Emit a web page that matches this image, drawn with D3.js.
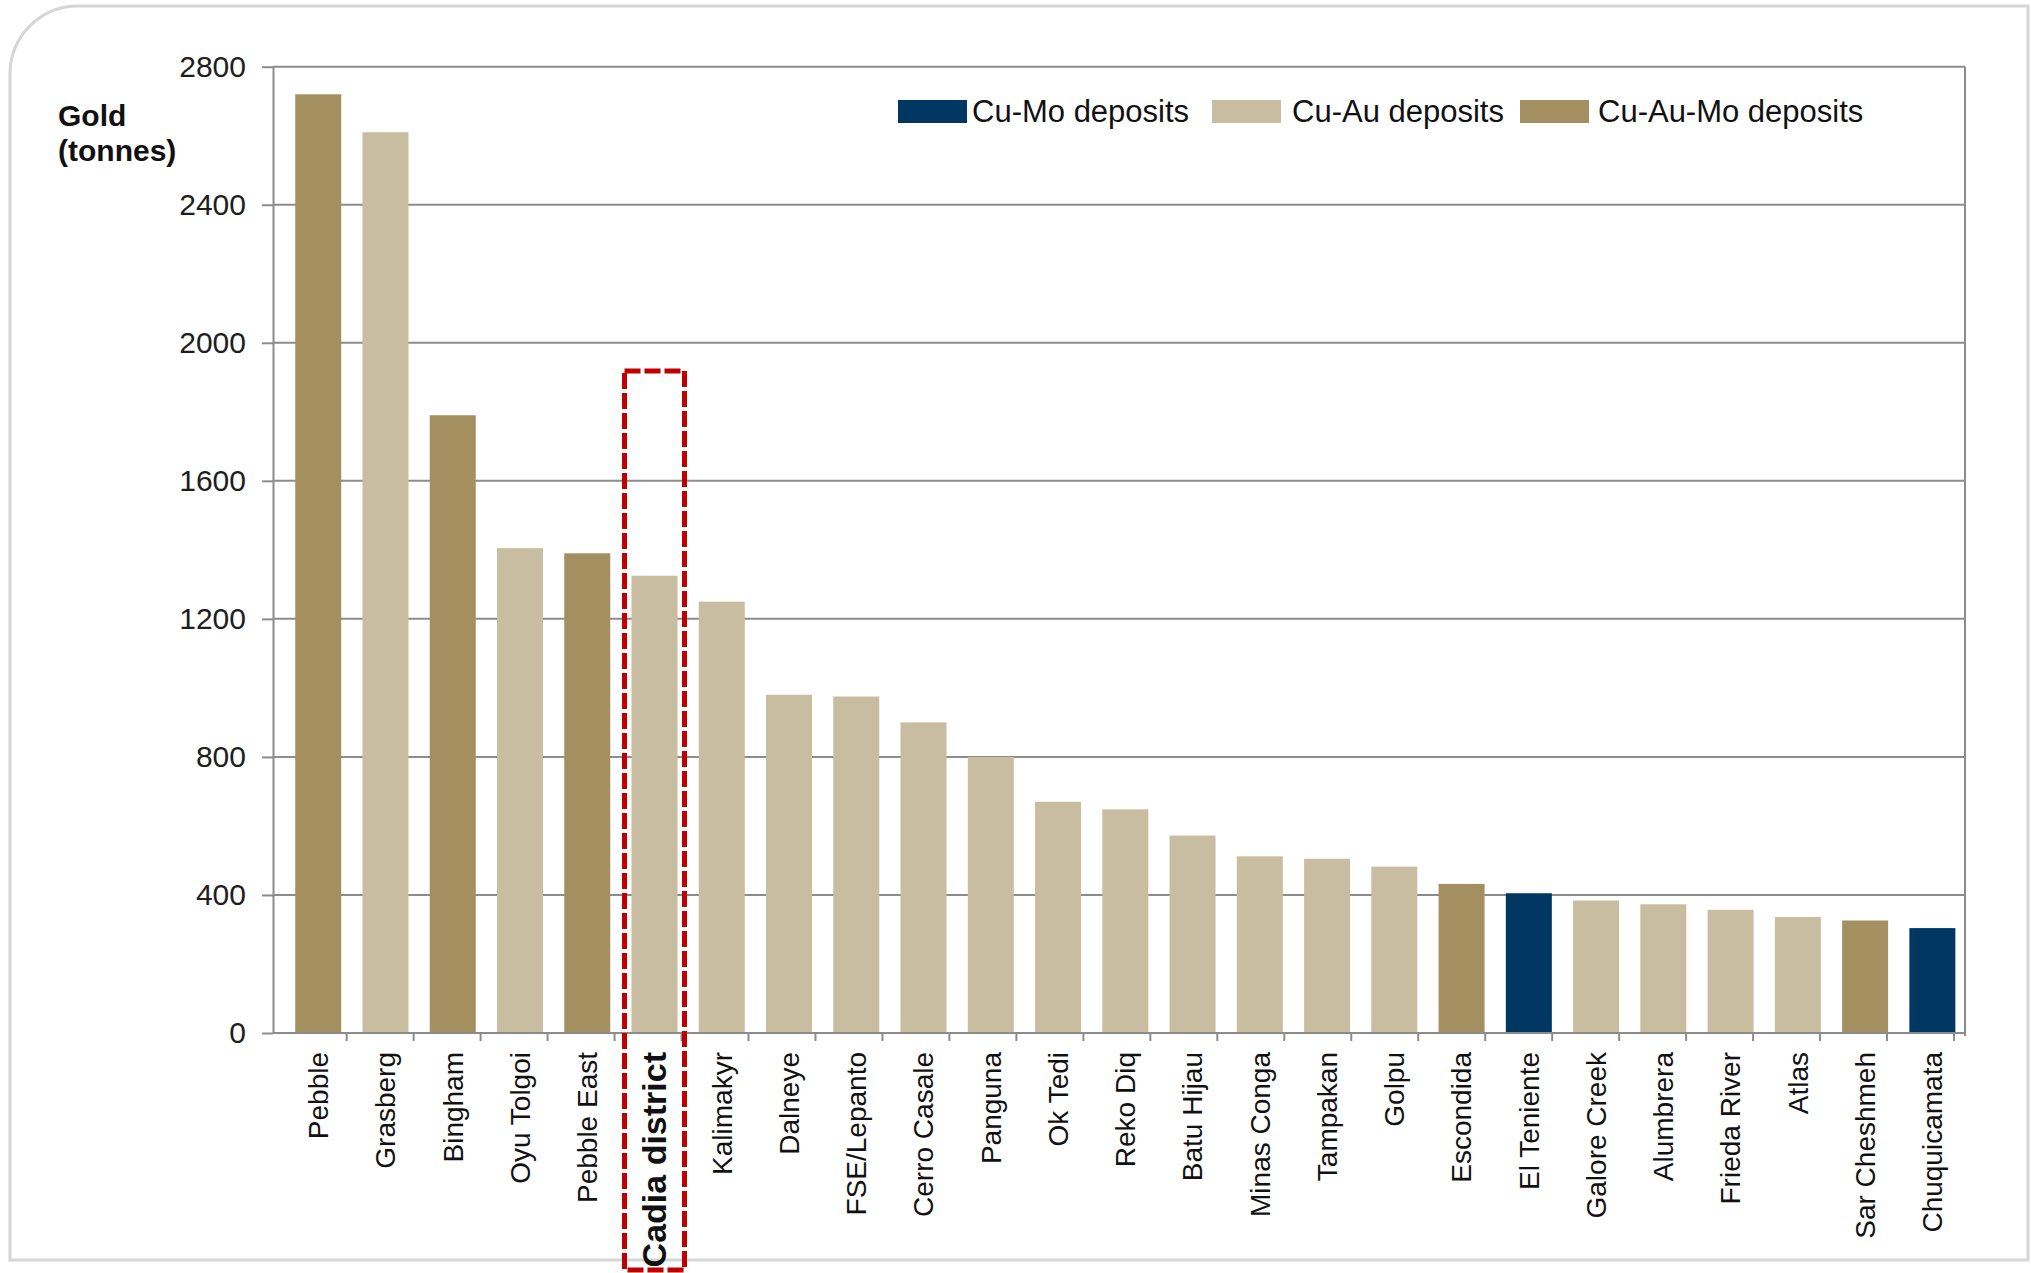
<!DOCTYPE html>
<html>
<head>
<meta charset="utf-8">
<script src="https://cdn.jsdelivr.net/npm/d3@7"></script>
<style>
  html, body { margin: 0; padding: 0; background: #ffffff; }
  svg { display: block; }
  text { font-family: "Liberation Sans", Arial, sans-serif; }
</style>
</head>
<body>
<script>
// Porphyry deposits ranked by contained gold
const categories = [
  "Pebble", "Grasberg", "Bingham", "Oyu Tolgoi", "Pebble East", "Cadia district",
  "Kalimakyr", "Dalneye", "FSE/Lepanto", "Cerro Casale", "Panguna", "Ok Tedi",
  "Reko Diq", "Batu Hijau", "Minas Conga", "Tampakan", "Golpu", "Escondida",
  "El Teniente", "Galore Creek", "Alumbrera", "Frieda River", "Atlas",
  "Sar Cheshmeh", "Chuquicamata"
];
const goldTonnes = [
  2720, 2610, 1790, 1405, 1390, 1325,
  1250, 980, 975, 900, 800, 670,
  648, 572, 512, 505, 482, 432,
  405, 384, 373, 357, 336,
  326, 304
];
const depositType = [
  "Cu-Au-Mo", "Cu-Au", "Cu-Au-Mo", "Cu-Au", "Cu-Au-Mo", "Cu-Au",
  "Cu-Au", "Cu-Au", "Cu-Au", "Cu-Au", "Cu-Au", "Cu-Au",
  "Cu-Au", "Cu-Au", "Cu-Au", "Cu-Au", "Cu-Au", "Cu-Au-Mo",
  "Cu-Mo", "Cu-Au", "Cu-Au", "Cu-Au", "Cu-Au",
  "Cu-Au-Mo", "Cu-Mo"
];
const seriesKeys = ["Cu-Mo", "Cu-Au", "Cu-Au-Mo"];
const seriesLabels = ["Cu-Mo deposits", "Cu-Au deposits", "Cu-Au-Mo deposits"];
const seriesColors = ["#003863", "#C8BDA0", "#A48F60"];
const yTickValues = [0, 400, 800, 1200, 1600, 2000, 2400, 2800];
const yTitleLines = ["Gold", "(tonnes)"];
const highlighted = "Cadia district";

const W = 2031, H = 1273;
const plot = { left: 273, right: 1965, top: 66.7, bottom: 1033 };

const data = categories.map((c, i) => ({ name: c, value: goldTonnes[i], type: depositType[i] }));

const svg = d3.select("body").append("svg")
  .attr("width", W).attr("height", H)
  .attr("viewBox", `0 0 ${W} ${H}`);

// Card outline with a rounded upper-left corner
const r = 68;
svg.append("path")
  .attr("d", `M10,1260 V${6 + r} A${r},${r} 0 0 1 ${10 + r},6 H2028 V1260 Z`)
  .attr("fill", "#ffffff")
  .attr("stroke", "#d6d6d6")
  .attr("stroke-width", 3);

const x = d3.scaleBand()
  .domain(categories)
  .range([284.6, 1966])
  .paddingInner(0.316)
  .paddingOuter(0.158);

// category boundary tick positions along the baseline
const xBoundary = d3.scaleLinear().domain([0, categories.length]).range([279.7, 1954]);

const y = d3.scaleLinear().domain([0, 2800]).range([plot.bottom, plot.top]);

const color = d3.scaleOrdinal().domain(seriesKeys).range(seriesColors);

// horizontal gridlines
svg.append("g").selectAll("line")
  .data(yTickValues.filter(v => v > 0))
  .join("line")
  .attr("x1", plot.left).attr("x2", plot.right)
  .attr("y1", d => y(d)).attr("y2", d => y(d))
  .attr("stroke", "#8c8c8c").attr("stroke-width", 2);

// right frame edge
svg.append("line")
  .attr("x1", plot.right).attr("x2", plot.right)
  .attr("y1", plot.top).attr("y2", plot.bottom + 3)
  .attr("stroke", "#8c8c8c").attr("stroke-width", 2);

// bars
svg.append("g").selectAll("rect")
  .data(data)
  .join("rect")
  .attr("x", d => x(d.name))
  .attr("y", d => y(d.value))
  .attr("width", x.bandwidth())
  .attr("height", d => y(0) - y(d.value))
  .attr("fill", d => color(d.type));

// y axis
const yAxis = d3.axisLeft(y)
  .tickValues(yTickValues)
  .tickSizeInner(11)
  .tickSizeOuter(0)
  .tickPadding(16)
  .tickFormat(d3.format("d"));
const yg = svg.append("g").attr("transform", `translate(${plot.left},0)`).call(yAxis);
yg.select(".domain").attr("stroke", "#8c8c8c").attr("stroke-width", 2);
yg.selectAll(".tick line").attr("stroke", "#8c8c8c").attr("stroke-width", 2);
yg.selectAll(".tick text")
  .attr("font-family", "'Liberation Sans', Arial, sans-serif")
  .attr("font-size", 30)
  .attr("fill", "#1e1e1e");

// baseline
svg.append("line")
  .attr("x1", plot.left).attr("x2", plot.right)
  .attr("y1", plot.bottom).attr("y2", plot.bottom)
  .attr("stroke", "#8c8c8c").attr("stroke-width", 2);

// category boundary ticks
svg.append("g").selectAll("line")
  .data(d3.range(1, categories.length + 1))
  .join("line")
  .attr("x1", d => xBoundary(d)).attr("x2", d => xBoundary(d))
  .attr("y1", plot.bottom).attr("y2", plot.bottom + 8)
  .attr("stroke", "#8c8c8c").attr("stroke-width", 2);

// category labels
const xAxis = d3.axisBottom(x).tickSize(0).tickPadding(0);
const xg = svg.append("g").attr("transform", `translate(0,${plot.bottom})`).call(xAxis);
xg.select(".domain").remove();
xg.selectAll(".tick text")
  .attr("transform", "rotate(-90)")
  .attr("x", -19)
  .attr("y", 0)
  .attr("dy", "0.35em")
  .attr("text-anchor", "end")
  .attr("font-family", "'Liberation Sans', Arial, sans-serif")
  .attr("font-size", d => d === highlighted ? 34 : 28)
  .attr("font-weight", d => d === highlighted ? "bold" : "normal")
  .attr("fill", "#111111");

// y axis title
svg.append("text")
  .attr("x", 58).attr("y", 126)
  .attr("font-size", 30).attr("font-weight", "bold").attr("fill", "#111111")
  .selectAll("tspan")
  .data(yTitleLines)
  .join("tspan")
  .attr("x", 58)
  .attr("dy", (d, i) => i === 0 ? 0 : 35)
  .text(d => d);

// legend: swatch left edges and label starts
const legendSwatchX = [898, 1212, 1520];
const legendTextX = [972, 1292, 1598];
const legend = svg.append("g");
seriesKeys.forEach((k, i) => {
  legend.append("rect")
    .attr("x", legendSwatchX[i]).attr("y", 100)
    .attr("width", 69).attr("height", 23)
    .attr("fill", color(k));
  legend.append("text")
    .attr("x", legendTextX[i]).attr("y", 111.5)
    .attr("dy", "0.35em")
    .attr("font-size", 31)
    .attr("fill", "#111111")
    .text(seriesLabels[i]);
});

// dashed highlight around the Cadia district column
const hx = x(highlighted) + x.bandwidth() / 2;
svg.append("rect")
  .attr("x", hx - 30).attr("y", 371)
  .attr("width", 60).attr("height", 899)
  .attr("fill", "none")
  .attr("stroke", "#C00000")
  .attr("stroke-width", 5)
  .attr("stroke-dasharray", "16,4");
</script>
</body>
</html>
